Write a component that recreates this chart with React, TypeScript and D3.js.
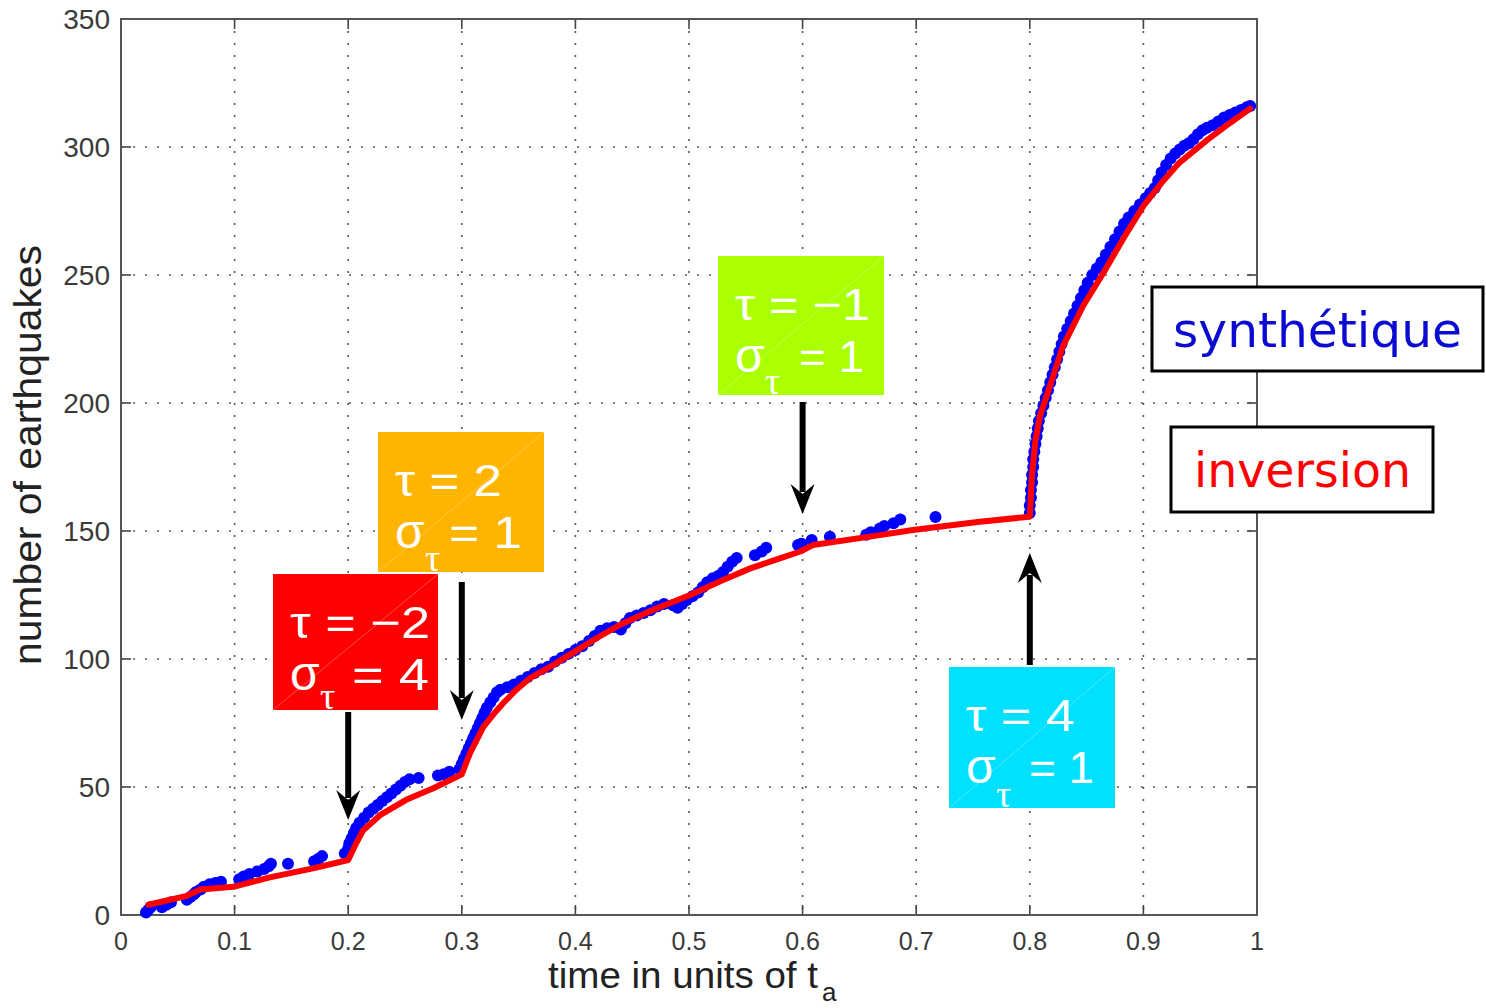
import React from 'react';
import * as d3 from 'd3';

// ---------- data ----------
const xTicks = [0, 0.1, 0.2, 0.3, 0.4, 0.5, 0.6, 0.7, 0.8, 0.9, 1];
const xTickLabels = ['0', '0.1', '0.2', '0.3', '0.4', '0.5', '0.6', '0.7', '0.8', '0.9', '1'];
const yTicks = [0, 50, 100, 150, 200, 250, 300, 350];
const yTickLabels = ['0', '50', '100', '150', '200', '250', '300', '350'];

// synthetic catalogue: [time, cumulative number]
const synthetic: [number, number][] = [
  [0.022, 1], [0.024, 2], [0.026, 3], [0.036, 3], [0.040, 4], [0.044, 5], [0.058, 6], [0.061, 7],
  [0.064, 8], [0.066, 9], [0.070, 10], [0.073, 11], [0.078, 12], [0.083, 12.5], [0.088, 13],
  [0.104, 14], [0.108, 15], [0.113, 16], [0.120, 17], [0.126, 18], [0.130, 19], [0.132, 20],
  [0.147, 20], [0.170, 21], [0.174, 22], [0.177, 23], [0.197, 24],
  [0.200, 26], [0.201, 28], [0.203, 30], [0.205, 32], [0.207, 34], [0.210, 36], [0.214, 38],
  [0.218, 40], [0.222, 41.5], [0.226, 43], [0.230, 44.5], [0.234, 46], [0.238, 47.5], [0.242, 49],
  [0.246, 50.5], [0.250, 52], [0.254, 53], [0.262, 53.5], [0.279, 54.5], [0.284, 55], [0.289, 56],
  [0.298, 57], [0.300, 59], [0.302, 61], [0.304, 63], [0.306, 65], [0.308, 67], [0.310, 69],
  [0.312, 71], [0.314, 73], [0.316, 75], [0.318, 77], [0.320, 79], [0.322, 81], [0.325, 83],
  [0.328, 85], [0.331, 87], [0.334, 88], [0.340, 89], [0.346, 90], [0.352, 91.5], [0.358, 93],
  [0.364, 94.5], [0.370, 96], [0.376, 97], [0.382, 99], [0.388, 100.5], [0.394, 102], [0.400, 103.5],
  [0.406, 105], [0.412, 107], [0.417, 109], [0.422, 111], [0.428, 112], [0.434, 112.5], [0.440, 111.5],
  [0.444, 114], [0.448, 116], [0.454, 117], [0.460, 118], [0.466, 119], [0.472, 120.5], [0.478, 121.5],
  [0.486, 121], [0.490, 120], [0.494, 121.5], [0.498, 123], [0.503, 124.5], [0.508, 126], [0.512, 128],
  [0.516, 130], [0.521, 131.5], [0.526, 132.5], [0.530, 134], [0.534, 136], [0.538, 138], [0.542, 139.5],
  [0.558, 140.5], [0.564, 142], [0.568, 143.5], [0.596, 144.5], [0.599, 145], [0.608, 146.5],
  [0.624, 147.8], [0.656, 148.5], [0.660, 149.5], [0.668, 151], [0.672, 152], [0.680, 153],
  [0.686, 154.5], [0.717, 155.5],
  [0.800, 157], [0.800, 160], [0.801, 163], [0.801, 166], [0.802, 169], [0.802, 172], [0.803, 175],
  [0.803, 178], [0.804, 181], [0.805, 184], [0.806, 187], [0.807, 190], [0.808, 193], [0.810, 196],
  [0.812, 199], [0.814, 202], [0.816, 205], [0.818, 208], [0.820, 211], [0.822, 214], [0.824, 217],
  [0.826, 220], [0.828, 223], [0.830, 226], [0.833, 229], [0.836, 232], [0.839, 235], [0.842, 238],
  [0.845, 241], [0.848, 244], [0.851, 247], [0.855, 250], [0.859, 252.5], [0.863, 255], [0.867, 258],
  [0.871, 261], [0.875, 264], [0.879, 267], [0.883, 270], [0.887, 272.5], [0.892, 275], [0.897, 277.5],
  [0.902, 280], [0.906, 282], [0.910, 284], [0.913, 287], [0.916, 290], [0.920, 293], [0.924, 295.5],
  [0.928, 297.5], [0.932, 299], [0.936, 300.5], [0.940, 301.5], [0.944, 303], [0.948, 305],
  [0.952, 306.5], [0.956, 307.5], [0.961, 308.5], [0.966, 310], [0.971, 311.5], [0.976, 312.5],
  [0.981, 313.5], [0.986, 314.5], [0.991, 315.5], [0.994, 316],
];

// inversion result: [time, cumulative number]
const inversion: [number, number][] = [
  [0.024, 4], [0.058, 7.5], [0.070, 10], [0.099, 11], [0.131, 14.7], [0.169, 18.2], [0.200, 21.5],
  [0.207, 28], [0.213, 33], [0.228, 39], [0.251, 45], [0.275, 49.5], [0.300, 55],
  [0.307, 63], [0.319, 73.5], [0.328, 78.5], [0.337, 83], [0.348, 88], [0.360, 92.5], [0.380, 97.5],
  [0.398, 102.5], [0.420, 108.5], [0.442, 114], [0.470, 119.5], [0.501, 125], [0.528, 130.5],
  [0.554, 135.4], [0.578, 139], [0.598, 142], [0.609, 144.5], [0.668, 148.4],
  [0.697, 150.4], [0.756, 153.6], [0.800, 155.6],
  [0.802, 172.5], [0.805, 185.5], [0.809, 195], [0.818, 207], [0.829, 222], [0.847, 238],
  [0.865, 251], [0.882, 264], [0.900, 277], [0.916, 286], [0.932, 294], [0.956, 302.7], [0.975, 309],
  [0.994, 315],
];

// annotations
const annTime = [0.2, 0.3, 0.6, 0.8];
const annTau = ['τ = −2', 'τ = 2', 'τ = −1', 'τ = 4'];
const annSigma = ['= 4', '= 1', '= 1', '= 1'];
const annColor = ['#ff0000', '#ffb400', '#aaff00', '#00e1ff'];

// ---------- layout ----------
const W = 1486;
const H = 1008;
const plot = { left: 121, right: 1257, top: 19, bottom: 915 };

// boxes (pixel layout)
const boxes = [
  { x: 273, y: 574, w: 165, h: 136, l1w: 140, l2x: 61, l2w: 77, arrowFrom: 712, arrowTo: 820 },
  { x: 378, y: 432, w: 166, h: 140, l1w: 107, l2x: 53, l2w: 73, arrowFrom: 582, arrowTo: 720 },
  { x: 718, y: 256, w: 166, h: 139, l1w: 135, l2x: 63, l2w: 65, arrowFrom: 402, arrowTo: 514 },
  { x: 949, y: 667, w: 166, h: 141, l1w: 109, l2x: 62, l2w: 65, arrowFrom: 665, arrowTo: 553 },
];

const FONT = "'Liberation Sans', Arial, Helvetica, sans-serif";

function Arrow({ x, from, to }: { x: number; from: number; to: number }) {
  const dir = to > from ? 1 : -1;
  const headLen = 30;
  const notch = 20;
  const half = 12;
  const base = to - dir * headLen;
  const notchY = to - dir * notch;
  const shaftEnd = to - dir * (notch + 2);
  return (
    <g>
      <line x1={x} y1={from} x2={x} y2={shaftEnd} stroke="#000" strokeWidth={6} />
      <path
        d={`M${x},${to} L${x - half},${base} L${x},${notchY} L${x + half},${base} Z`}
        fill="#000"
      />
    </g>
  );
}

export default function App() {
  const x = d3.scaleLinear().domain([0, 1]).range([plot.left, plot.right]);
  const y = d3.scaleLinear().domain([0, 350]).range([plot.bottom, plot.top]);
  const line = d3
    .line<[number, number]>()
    .x((d) => x(d[0]))
    .y((d) => y(d[1]))
    .curve(d3.curveLinear);

  const gridColor = '#555';
  const tickLen = 10;

  return (
    <svg
      width={W}
      height={H}
      viewBox={`0 0 ${W} ${H}`}
      style={{ position: 'absolute', left: 0, top: 0, background: '#fff' }}
    >
      <rect x={0} y={0} width={W} height={H} fill="#fff" />

      {/* grid */}
      <g stroke={gridColor} strokeWidth={1.6} strokeDasharray="2,10" fill="none">
        {xTicks.slice(1, -1).map((t) => (
          <line key={'gx' + t} x1={x(t)} x2={x(t)} y1={plot.top} y2={plot.bottom} />
        ))}
        {yTicks.slice(1, -1).map((t) => (
          <line key={'gy' + t} x1={plot.left} x2={plot.right} y1={y(t)} y2={y(t)} />
        ))}
      </g>

      {/* ticks */}
      <g stroke="#444" strokeWidth={1.6}>
        {xTicks.map((t) => (
          <g key={'tx' + t}>
            <line x1={x(t)} x2={x(t)} y1={plot.bottom} y2={plot.bottom - tickLen} />
            <line x1={x(t)} x2={x(t)} y1={plot.top} y2={plot.top + tickLen} />
          </g>
        ))}
        {yTicks.map((t) => (
          <g key={'ty' + t}>
            <line x1={plot.left} x2={plot.left + tickLen} y1={y(t)} y2={y(t)} />
            <line x1={plot.right} x2={plot.right - tickLen} y1={y(t)} y2={y(t)} />
          </g>
        ))}
      </g>

      {/* axes box */}
      <rect
        x={plot.left}
        y={plot.top}
        width={plot.right - plot.left}
        height={plot.bottom - plot.top}
        fill="none"
        stroke="#555"
        strokeWidth={2}
      />

      {/* tick labels */}
      <g fontFamily={FONT} fill="#3a3a3a">
        {xTicks.map((t, i) => (
          <text key={'lx' + t} x={x(t)} y={950} fontSize={25} textAnchor="middle">
            {xTickLabels[i]}
          </text>
        ))}
        {yTicks.map((t, i) => (
          <text key={'ly' + t} x={110} y={y(t) + 10} fontSize={28} textAnchor="end">
            {yTickLabels[i]}
          </text>
        ))}
      </g>

      {/* axis labels */}
      <text
        fontFamily={FONT}
        fontSize={38}
        fill="#222"
        textAnchor="middle"
        transform={`translate(41, 455) rotate(-90)`}
        textLength={420}
        lengthAdjust="spacingAndGlyphs"
      >
        number of earthquakes
      </text>
      <text fontFamily={FONT} fontSize={36} fill="#222" x={548} y={988}>
        <tspan textLength={270} lengthAdjust="spacingAndGlyphs">time in units of t</tspan>
        <tspan fontSize={26} dx={4} dy={13}>a</tspan>
      </text>

      {/* synthetic points */}
      <g fill="#0000ff">
        {synthetic.map((d, i) => (
          <circle key={'s' + i} cx={x(d[0])} cy={y(d[1])} r={6} />
        ))}
      </g>

      {/* inversion line */}
      <path
        d={line(inversion) || ''}
        fill="none"
        stroke="#ff0000"
        strokeWidth={6}
        strokeLinejoin="round"
        strokeLinecap="round"
      />

      {/* annotation boxes */}
      {boxes.map((b, i) => (
        <g key={'box' + i}>
          <rect x={b.x} y={b.y} width={b.w} height={b.h} fill={annColor[i]} />
          <line
            x1={b.x}
            y1={b.y + b.h}
            x2={b.x + b.w}
            y2={b.y}
            stroke="#fff"
            strokeOpacity={0.3}
            strokeWidth={1}
          />
          <text
            x={b.x + 17}
            y={b.y + 64}
            fontFamily={FONT}
            fontSize={45}
            fill="#fff"
            textLength={b.l1w}
            lengthAdjust="spacingAndGlyphs"
          >
            {annTau[i]}
          </text>
          <text x={b.x + 17} y={b.y + 116} fontFamily={FONT} fontSize={48} fill="#fff">
            σ
          </text>
          <text
            x={b.x + 47}
            y={b.y + b.h - 1}
            fontFamily="'Liberation Serif', 'Times New Roman', serif"
            fontSize={38}
            fill="#fff"
          >
            τ
          </text>
          <text
            x={b.x + 18 + b.l2x}
            y={b.y + 116}
            fontFamily={FONT}
            fontSize={45}
            fill="#fff"
            textLength={b.l2w}
            lengthAdjust="spacingAndGlyphs"
          >
            {annSigma[i]}
          </text>
          <Arrow x={x(annTime[i])} from={b.arrowFrom} to={b.arrowTo} />
        </g>
      ))}

      {/* legend boxes */}
      <g>
        <rect x={1152} y={287} width={331} height={84} fill="#fff" stroke="#000" strokeWidth={3} />
        <text
          x={1173}
          y={347}
          fontFamily="'DejaVu Sans', sans-serif"
          fontSize={48}
          fill="#0a0ad2"
          textLength={289}
          lengthAdjust="spacingAndGlyphs"
        >
          synthétique
        </text>
        <rect x={1171} y={427} width={262} height={85} fill="#fff" stroke="#000" strokeWidth={3} />
        <text
          x={1194}
          y={487}
          fontFamily="'DejaVu Sans', sans-serif"
          fontSize={48}
          fill="#ff0000"
          textLength={217}
          lengthAdjust="spacingAndGlyphs"
        >
          inversion
        </text>
      </g>
    </svg>
  );
}
